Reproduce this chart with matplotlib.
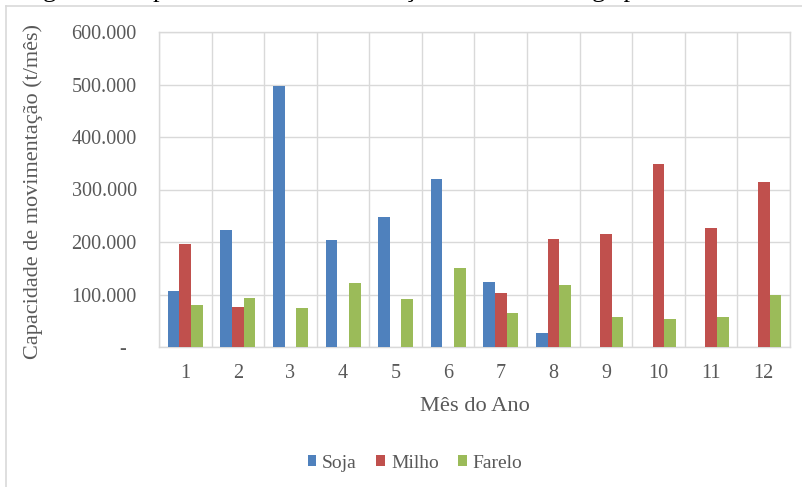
import matplotlib
matplotlib.use("Agg")
import matplotlib.pyplot as plt
from matplotlib.lines import Line2D
from matplotlib.font_manager import FontProperties
import numpy as np

# Monthly handling capacity (t/month) by product
meses = ["1", "2", "3", "4", "5", "6", "7", "8", "9", "10", "11", "12"]
soja = [107000, 223000, 497000, 203000, 248000, 320000, 124000, 27000, 0, 0, 0, 0]
milho = [197000, 76000, 0, 0, 0, 0, 102000, 205000, 215000, 349000, 226000, 314000]
farelo = [80000, 94000, 74000, 121000, 92000, 150000, 64000, 119000, 57000, 54000, 57000, 99000]
series_names = ["Soja", "Milho", "Farelo"]
y_ticks = [0, 100000, 200000, 300000, 400000, 500000, 600000]

colors = ["#4F81BD", "#C0504D", "#9BBB59"]
text_gray = "#595959"
grid_gray = "#D9D9D9"
serif = ["Liberation Serif", "DejaVu Serif"]

plt.rcParams["font.family"] = serif

W, H = 803, 487
fig = plt.figure(figsize=(W / 100, H / 100), dpi=100)

# plot area in pixel coordinates
left, right, top, bottom = 159, 790, 32, 347
ax = fig.add_axes([left / W, (H - bottom) / H, (right - left) / W, (bottom - top) / H])

x = np.arange(len(meses))
bw = 0.222
for k, (vals, c, name) in enumerate(zip([soja, milho, farelo], colors, series_names)):
    ax.bar(x + (k - 1) * bw, vals, width=bw, color=c, label=name, linewidth=0, zorder=3)

ax.set_xlim(-0.5, len(meses) - 0.5)
ax.set_ylim(0, 600000)

ax.set_yticks(y_ticks)
ax.set_yticklabels(["-  " if v == 0 else f"{v:,}".replace(",", ".") for v in y_ticks],
                   family=serif)
ax.set_xticks(x)
ax.set_xticklabels(meses, family=serif)

# vertical gridlines between categories
ax.set_xticks(np.arange(len(meses) + 1) - 0.5, minor=True)
ax.grid(axis="x", which="minor", color=grid_gray, linewidth=1.0, zorder=0)
ax.grid(axis="y", which="major", color=grid_gray, linewidth=1.0, zorder=0)
ax.grid(axis="x", which="major", visible=False)

ax.tick_params(axis="both", which="both", length=0)
ax.tick_params(axis="y", pad=16, labelsize=14.5, labelcolor=text_gray)
ax.tick_params(axis="x", pad=12, labelsize=14.5, labelcolor=text_gray)

for sp in ax.spines.values():
    sp.set_color(grid_gray)
    sp.set_linewidth(1.0)

ax.set_xlabel("Mês do Ano", fontsize=16.2, color=text_gray, labelpad=10, family=serif)
ax.set_ylabel("Capacidade de movimentação (t/mês)", fontsize=16, color=text_gray, family=serif)
ax.yaxis.set_label_coords((43 - left) / (right - left), (bottom - 191.5) / (bottom - top))

leg = fig.legend(loc="center", bbox_to_anchor=(415 / W, 1 - 463 / H), ncol=3, frameon=False,
                 prop=FontProperties(family="Liberation Serif", size=14),
                 handlelength=0.45, handleheight=0.45, handletextpad=0.3, columnspacing=1.0)
for t in leg.get_texts():
    t.set_color(text_gray)
    t.set_fontfamily("Liberation Serif")

# chart area border (top and left edges)
fig.add_artist(Line2D([6 / W, 1.0], [1 - 6 / H, 1 - 6 / H], transform=fig.transFigure,
                      color=grid_gray, linewidth=1.2))
fig.add_artist(Line2D([6 / W, 6 / W], [0, 1 - 6 / H], transform=fig.transFigure,
                      color=grid_gray, linewidth=1.2))

# figure caption above the chart
fig.text(21 / W, 1 + 3.2 / H, "Figura 1: Capacidade de movimentação mensal de carga por mercado",
         fontsize=19, color="black", ha="left", va="baseline", family="Liberation Serif")

fig.savefig("out.png", dpi=100)
